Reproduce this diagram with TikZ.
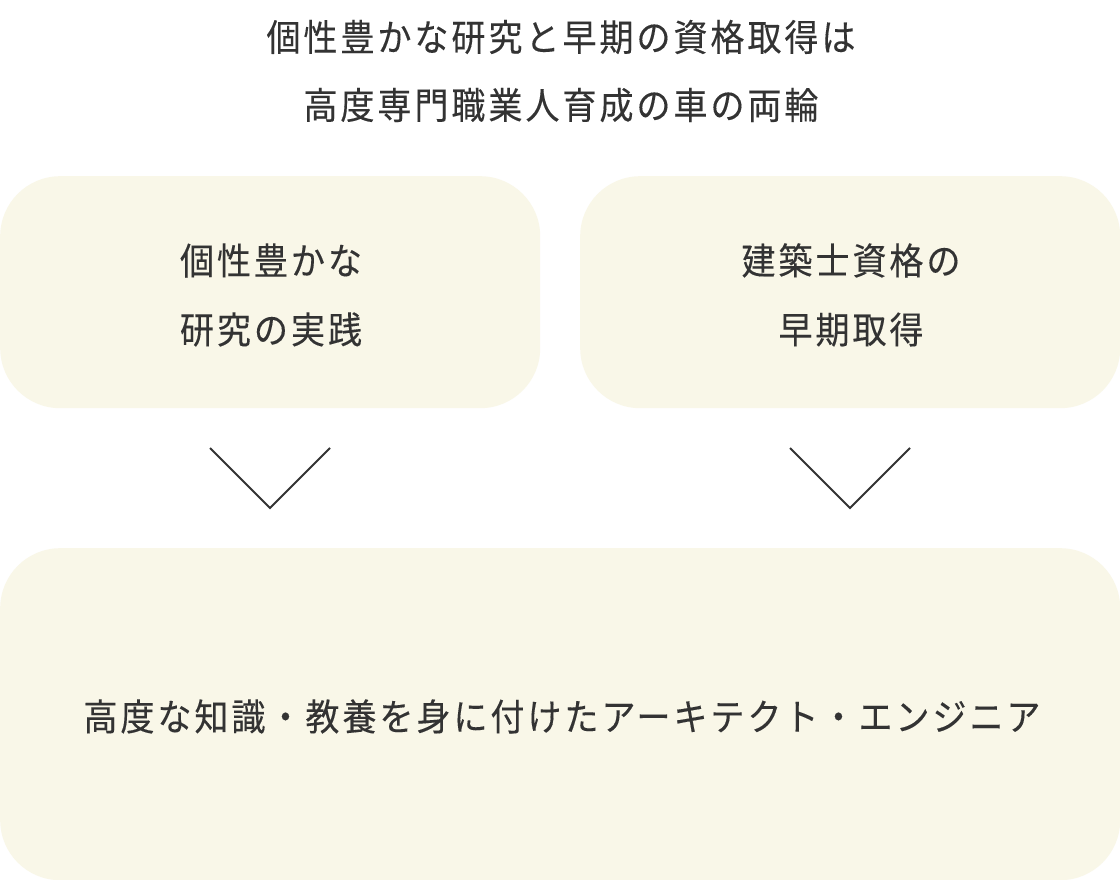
\documentclass[tikz,border=0pt]{standalone}
\usepackage{fontspec}
\setmainfont{Noto Sans CJK JP}[LetterSpace=8, FakeStretch=0.92, FakeBold=0.2]
\definecolor{boxfill}{HTML}{F9F7E8}
\definecolor{ink}{HTML}{333333}
\begin{document}
\begin{tikzpicture}[x=1pt,y=-1pt,
  panel/.style={fill=boxfill, rounded corners=60pt, inner sep=0pt, anchor=north west},
  label/.style={text=ink, font=\fontsize{37}{69}\selectfont, inner sep=0pt, anchor=base},
  chev/.style={draw=ink, line width=2pt}]
\useasboundingbox (0,0) rectangle (1120,880);
\fill[white] (0,0) rectangle (1120,880);
% panels
\node[panel, minimum width=540pt, minimum height=232pt] (A) at (0,176) {};
\node[panel, minimum width=540pt, minimum height=232pt] (B) at (580,176) {};
\node[panel, minimum width=1120pt, minimum height=332pt] (C) at (0,548) {};
% texts
\node[label] (title1) at (561,51) {個性豊かな研究と早期の資格取得は};
\node[label] (title2) at (561,119) {高度専門職業人育成の車の両輪};
\node[label] (A1) at (271,274.5) {個性豊かな};
\node[label] (A2) at (271,343.5) {研究の実践};
\node[label] (B1) at (851,274.5) {建築士資格の};
\node[label] (B2) at (851,343.5) {早期取得};
\node[label] (C1) at (562,730.5) {高度な知識・教養を身に付けたアーキテクト・エンジニア};
% chevrons
\coordinate (ca1) at (210,448);
\coordinate (ca2) at (270,508);
\coordinate (ca3) at (330,448);
\coordinate (cb1) at (790,448);
\coordinate (cb2) at (850,508);
\coordinate (cb3) at (910,448);
\draw[chev] (ca1) -- (ca2) -- (ca3);
\draw[chev] (cb1) -- (cb2) -- (cb3);
\end{tikzpicture}
\end{document}
